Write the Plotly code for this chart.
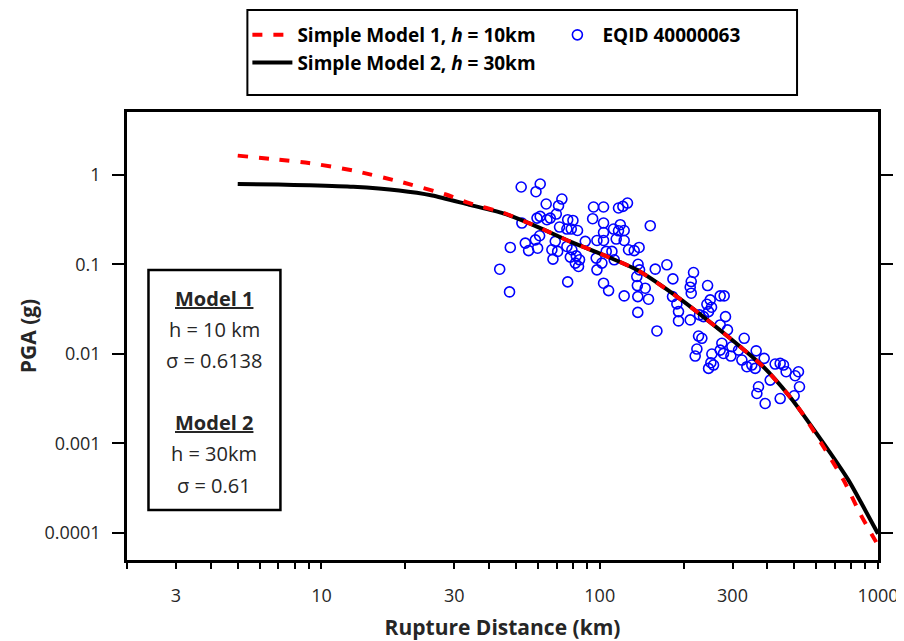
import math
import plotly.graph_objects as go

# Model curves
m1_x = [5, 7, 9, 13, 19, 28, 34, 45, 60, 78, 103, 136, 182, 223, 294, 387, 483, 540, 752, 863, 1000]
m1_y = [1.63, 1.47, 1.35, 1.11, 0.84, 0.60, 0.48, 0.375, 0.26, 0.18, 0.127, 0.0865, 0.0475, 0.0296,
        0.0149, 0.00718, 0.0033, 0.00207, 0.00039, 0.000164, 0.000073]

m2_x = [5, 7, 9, 13, 19, 25, 34, 45, 60, 78, 103, 136, 182, 223, 294, 387, 483, 540, 783, 887, 1000]
m2_y = [0.787, 0.775, 0.76, 0.73, 0.665, 0.585, 0.46, 0.37, 0.26, 0.18, 0.127, 0.0865, 0.0475, 0.0296,
        0.0149, 0.00718, 0.0033, 0.00207, 0.00039, 0.000195, 0.000098]

# Recorded data EQID 40000063
eq_x = [52.2, 61.1, 59.0, 64.2, 71.1, 73.1, 95.0, 103.2, 116.8, 121.1, 125.8,
        52.5, 59.5, 61.1, 64.6, 66.4, 69.8, 76.7, 80.1, 94.3, 103.2, 112.1, 116.8, 122.4, 118.5,
        54.0, 55.5, 59.8, 60.8, 58.7, 67.3, 69.2, 71.7, 76.2, 79.0, 83.2, 88.7, 97.7, 103.2, 103.2,
        114.6, 122.4, 126.9, 133.0,
        67.9, 70.6, 76.2, 79.4, 78.4, 82.3, 84.6, 83.9, 81.7, 97.1, 101.8, 105.5, 110.6, 112.7, 97.7,
        47.7, 43.7, 47.4, 76.7, 103.2, 107.6, 122.4,
        137.3, 139.0, 135.9, 136.5, 137.0, 137.0, 138.5,
        174.3, 158.3, 183.2, 217.3, 213.2, 211.4, 244.1, 213.2, 189.3, 191.9, 191.9, 211.4, 160.5,
        182.6, 149.7, 145.7,
        270.9, 280.0, 249.4, 242.7, 246.1, 252.2, 228.3, 236.0, 283.1, 270.9, 287.8, 226.5, 232.8,
        223.4, 220.3, 252.9, 250.8, 246.1, 256.4,
        274.7, 270.9, 278.5, 296.0, 298.5, 315.4, 330.5, 324.2, 337.8, 352.0, 364.9, 389.9, 361.9,
        427.0, 445.1, 457.4, 467.6, 517.8, 503.8, 522.2, 409.8, 372.0, 367.0, 393.1, 445.1, 499.6,
        151.9]
eq_y = [0.728, 0.786, 0.645, 0.470, 0.450, 0.534, 0.435, 0.435, 0.424, 0.442, 0.482,
        0.288, 0.327, 0.342, 0.314, 0.327, 0.363, 0.314, 0.308, 0.322, 0.288, 0.247, 0.236, 0.238, 0.276,
        0.172, 0.142, 0.151, 0.208, 0.187, 0.145, 0.180, 0.260, 0.247, 0.247, 0.238, 0.180, 0.184, 0.184, 0.226,
        0.191, 0.184, 0.145, 0.142,
        0.114, 0.139, 0.158, 0.145, 0.120, 0.124, 0.112, 0.0943, 0.103, 0.117, 0.103, 0.139, 0.139, 0.112, 0.0865,
        0.154, 0.0880, 0.0491, 0.0635, 0.0614, 0.0508, 0.0443,
        0.100, 0.0865, 0.0729, 0.0578, 0.0435, 0.0290, 0.154,
        0.0985, 0.0881, 0.0686, 0.0808, 0.0641, 0.0554, 0.0578, 0.0475, 0.0361, 0.0296, 0.0233, 0.0239, 0.0180,
        0.0436, 0.0407, 0.0540,
        0.0443, 0.0443, 0.0400, 0.0357, 0.0296, 0.0331, 0.0272, 0.0260, 0.0260, 0.0210, 0.0185, 0.0158, 0.0149,
        0.0113, 0.00945, 0.00995, 0.00796, 0.00688, 0.00749,
        0.0131, 0.0110, 0.0101, 0.00945, 0.0120, 0.0110, 0.0149, 0.00852, 0.00718, 0.00749, 0.0108, 0.00890, 0.00688,
        0.00769, 0.00782, 0.00749, 0.00631, 0.00631, 0.00569, 0.00429, 0.00509, 0.00429, 0.00361, 0.00279, 0.00317, 0.00340,
        0.269]

x_tick_vals = [2, 3, 4, 5, 6, 7, 8, 9, 10, 20, 30, 40, 50, 60, 70, 80, 90, 100,
               200, 300, 400, 500, 600, 700, 800, 900, 1000]
x_labelled = {3: "3", 10: "10", 30: "30", 100: "100", 300: "300", 1000: "1000"}
x_major = [10, 100, 1000]
y_tick_vals = [0.0001, 0.001, 0.01, 0.1, 1]
y_tick_text = ["0.0001", "0.001", "0.01", "0.1", "1"]

FONT = "Open Sans"
TXT = "#262626"

fig = go.Figure()
fig.add_trace(go.Scatter(
    x=eq_x, y=eq_y, mode="markers", name="EQID 40000063", legendrank=2,
    marker=dict(symbol="circle-open", size=10, color="#0000FF", line=dict(width=1.6, color="#0000FF"))))
fig.add_trace(go.Scatter(
    x=m2_x, y=m2_y, mode="lines", name="Simple Model 2, <i>h</i> = 30km", legendrank=3,
    line=dict(color="black", width=4, shape="spline", smoothing=0.6)))
fig.add_trace(go.Scatter(
    x=m1_x, y=m1_y, mode="lines", name="Simple Model 1, <i>h</i> = 10km", legendrank=1,
    line=dict(color="#FF0000", width=4, dash="10px,11px", shape="spline", smoothing=0.6)))

xr = [math.log10(2), 3]
yr = [math.log10(5e-5), math.log10(5)]

# The page body adds an 8px offset, so the figure is 8px smaller than the window
fig.update_layout(
    width=896, height=633,
    margin=dict(l=118.5, r=26, t=104, b=81, autoexpand=False),
    paper_bgcolor="white", plot_bgcolor="white",
    font=dict(family=FONT, size=18, color=TXT),
    xaxis=dict(type="log", range=xr, showline=True, linewidth=2.5, linecolor="black", mirror=True,
               showgrid=False, zeroline=False, ticks="outside", ticklen=6, tickwidth=2, tickcolor="black",
               tickvals=x_tick_vals, ticktext=[x_labelled.get(v, "") for v in x_tick_vals],
               tickfont=dict(size=18, color=TXT, family=FONT), ticklabelstandoff=12,
               title=dict(text="<b>Rupture Distance (km)</b>", font=dict(size=21, color=TXT, family=FONT),
                          standoff=14)),
    xaxis2=dict(type="log", range=xr, overlaying="x", side="top", anchor="y", showline=False,
                showgrid=False, zeroline=False, ticks="outside", ticklen=8, tickwidth=2, tickcolor="black",
                tickvals=x_major, showticklabels=False),
    xaxis3=dict(type="log", range=xr, overlaying="x", side="bottom", anchor="y", showline=False,
                showgrid=False, zeroline=False, ticks="outside", ticklen=12, tickwidth=2, tickcolor="black",
                tickvals=x_major, showticklabels=False),
    yaxis=dict(type="log", range=yr, showline=True, linewidth=2.5, linecolor="black", mirror="ticks",
               showgrid=False, zeroline=False, ticks="outside", ticklen=12, tickwidth=2, tickcolor="black",
               tickvals=y_tick_vals, ticktext=y_tick_text, ticklabelstandoff=8,
               tickfont=dict(size=18, color=TXT, family=FONT),
               title=dict(text="<b>PGA (g)</b>", font=dict(size=21, color=TXT, family=FONT), standoff=3)),
    legend=dict(orientation="h", x=0.1603, xanchor="left", y=1.2143, yanchor="top",
                borderwidth=0, bgcolor="rgba(0,0,0,0)",
                font=dict(size=19, color="black", family=FONT, weight="bold"),
                entrywidth=250, itemwidth=40, tracegroupgap=0),
    showlegend=True,
)

# Legend frame
fig.add_shape(type="rect", xref="paper", yref="paper", x0=0.1603, x1=0.8922, y0=1.0379, y1=1.2277,
              line=dict(color="black", width=2), fillcolor="rgba(0,0,0,0)", layer="above")

# Info box
fig.add_shape(type="rect", xref="paper", yref="paper", x0=0.0286, x1=0.2043, y0=0.1116, y1=0.6473,
              line=dict(color="black", width=2.5), fillcolor="white", layer="above")
box_lines = [("<b><u>Model 1</u></b>", 0.5848), ("h = 10 km", 0.5156), ("σ = 0.6138", 0.4464),
             ("<b><u>Model 2</u></b>", 0.3080), ("h = 30km", 0.2388), ("σ = 0.61", 0.1674)]
for txt, yy in box_lines:
    fig.add_annotation(text=txt, xref="paper", yref="paper", x=0.1164, y=yy, showarrow=False,
                       xanchor="center", yanchor="middle", font=dict(size=20, color=TXT, family=FONT))

fig.write_html("out.html")
